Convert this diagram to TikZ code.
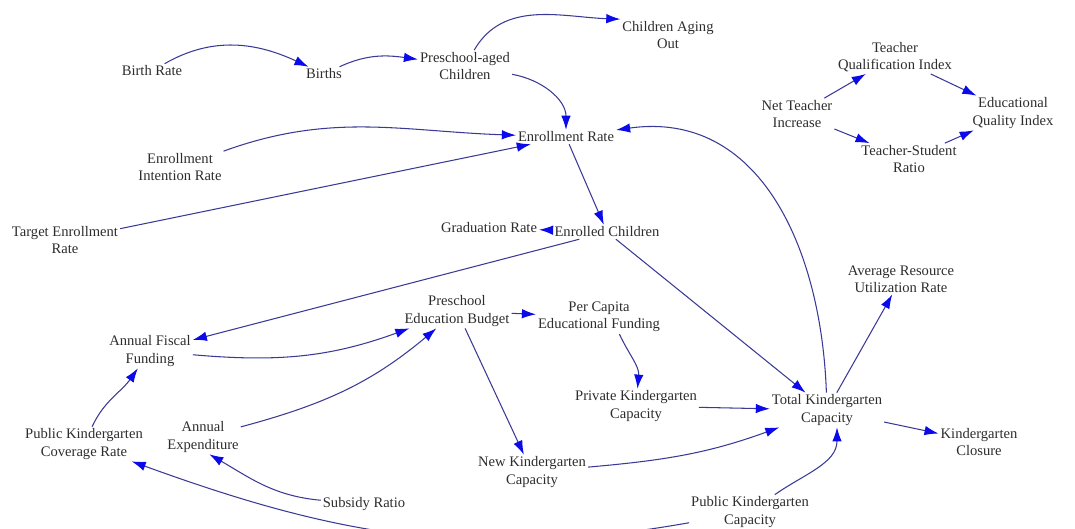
\documentclass[tikz,border=0pt]{standalone}
\usepackage{fontspec}
\setmainfont{Liberation Serif}
\usepackage{tikz}
\usetikzlibrary{arrows.meta}
\definecolor{linkblue}{RGB}{58,58,150}
\definecolor{headblue}{RGB}{10,10,235}
\definecolor{txtgray}{RGB}{45,45,45}
\tikzset{
    var/.style = {align=center, text=txtgray, inner sep=1pt,
        font=\fontsize{8.3}{9.8}\selectfont},
    link/.style = {draw=linkblue, line width=0.6pt,
        -{Latex[length=8pt,width=5.4pt,color=headblue]}}
}

\begin{document}
\begin{tikzpicture}[x=0.02cm, y=-0.02cm]
                \useasboundingbox (0,0) rectangle (1075,528);
                \clip (0,0) rectangle (1075,528);
                % population and enrollment
                \node[var] (br) at (152,71) {Birth Rate};
                \node[var] (births) at (324,74) {Births};
                \node[var] (psc) at (465,66) {Preschool-aged\\Children};
                \node[var] (cao) at (668,35) {Children Aging\\Out};
                \node[var] (er) at (566,137) {Enrollment Rate};
                \node[var] (eir) at (180,167) {Enrollment\\Intention Rate};
                \node[var] (ter) at (65,240) {Target Enrollment\\Rate};
                \node[var] (gr) at (489,228) {Graduation Rate};
                \node[var] (ec) at (607,232) {Enrolled Children};
                % teachers
                \node[var] (tqi) at (895,57) {Teacher\\Qualification Index};
                \node[var] (nti) at (797,114) {Net Teacher\\Increase};
                \node[var] (eqi) at (1013,113) {Educational\\Quality Index};
                \node[var] (tsr) at (909,159) {Teacher-Student\\Ratio};
                % funding and capacity
                \node[var] (arur) at (901,279) {Average Resource\\Utilization Rate};
                \node[var] (peb) at (457,311) {Preschool\\Education Budget};
                \node[var] (pcef) at (599,317) {Per Capita\\Educational Funding};
                \node[var] (aff) at (150,351) {Annual Fiscal\\Funding};
                \node[var] (privkc) at (636,406) {Private Kindergarten\\Capacity};
                \node[var] (tkc) at (827,410) {Total Kindergarten\\Capacity};
                \node[var] (kc) at (979,442) {Kindergarten\\Closure};
                \node[var] (pkcr) at (84,444) {Public Kindergarten\\Coverage Rate};
                \node[var] (ae) at (203,437) {Annual\\Expenditure};
                \node[var] (nkc) at (532,472) {New Kindergarten\\Capacity};
                \node[var] (sr) at (364,504) {Subsidy Ratio};
                \node[var] (pubkc) at (750,512) {Public Kindergarten\\Capacity};

                \draw[link] (br) to[out=30,in=155] (births);
                \draw[link] (births) to[out=25,in=172] (psc);
                \draw[link] (psc) to[out=60,in=178] (cao.north west);
                \draw[link] (psc) to[out=-10,in=90] (er);
                \draw[link] (eir) to[out=20,in=178] (er);
                \draw[link] (ter) -- (er);
                \draw[link] (er) -- (ec);
                \draw[link] (ec) -- (gr);
                \draw[link] (ec) -- (aff);
                \draw[link] (ec) -- (tkc);
                \draw[link] (tkc) to[out=92,in=8,looseness=1.1] (er);
                \draw[link] (tkc) -- (arur);
                \draw[link] (tkc) -- (kc);
                \draw[link] (nti) -- (tqi);
                \draw[link] (tqi) -- (eqi);
                \draw[link] (nti) -- (tsr);
                \draw[link] (tsr) -- (eqi);
                \draw[link] (aff) to[out=-5,in=200] (peb);
                \draw[link] (pkcr) to[out=65,in=235] (aff);
                \draw[link] (ae) to[out=15,in=220] (peb);
                \draw[link] (sr) to[out=175,in=-30] (ae.-70);
                \draw[link] (pubkc) to[out=190,in=-20] (pkcr);
                \draw[link] (pubkc) to[out=35,in=-90] (tkc.-60);
                \draw[link] (peb) -- (pcef);
                \draw[link] (pcef.-40) to[out=-65,in=85] (privkc);
                \draw[link] (peb) -- (nkc);
                \draw[link] (privkc) -- (tkc);
                \draw[link] (nkc) to[out=5,in=200] (tkc);
            \end{tikzpicture}
\end{document}
